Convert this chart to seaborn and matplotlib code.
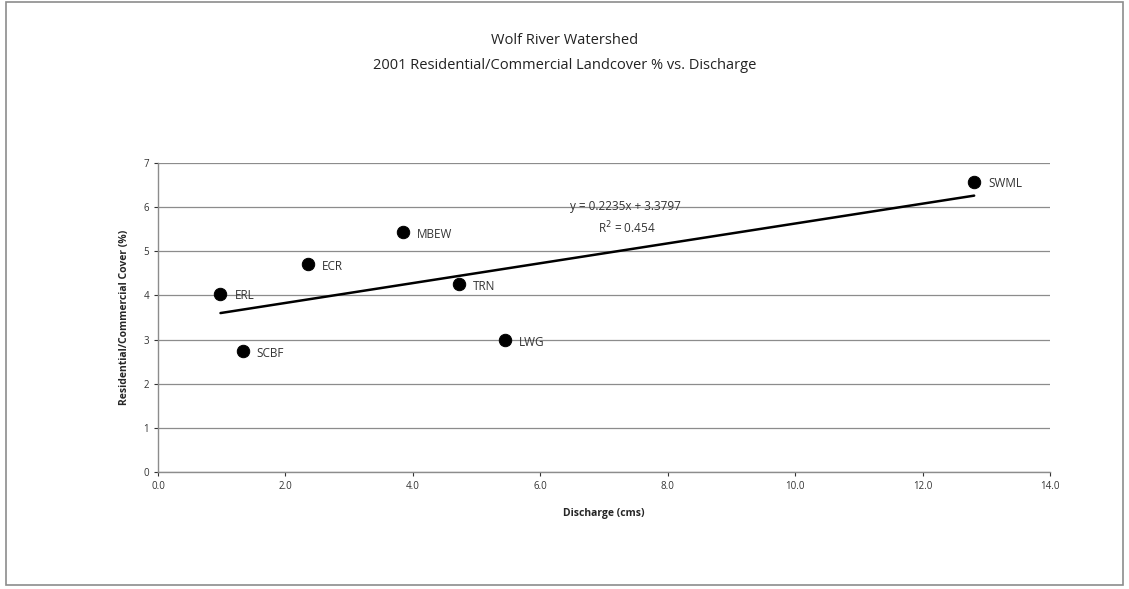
import numpy as np
import pandas as pd
import matplotlib
matplotlib.use('Agg')
import matplotlib.pyplot as plt
import seaborn as sns

# -------------------------------
# Data
# -------------------------------
sites = ['ERL', 'ECR', 'MBEW', 'TRN', 'SCBF', 'LWG', 'SWML']
discharge = [0.98, 2.36, 3.85, 4.73, 1.33, 5.45, 12.81]
res_cover = [4.04, 4.71, 5.43, 4.26, 2.74, 2.99, 6.58]

df = pd.DataFrame({'site': sites, 'discharge': discharge, 'cover': res_cover})

# -------------------------------
# Figure setup
# -------------------------------
sns.set_theme(style='white')
plt.rcParams['font.family'] = ['Open Sans', 'DejaVu Sans']

fig = plt.figure(figsize=(11.29, 5.89), dpi=100)
ax = fig.add_axes([0.140, 0.199, 0.790, 0.524])

# outer chart border
fig.patches.append(plt.Rectangle((0.005, 0.006), 0.99, 0.99, transform=fig.transFigure,
                                 fill=False, edgecolor='#8c8c8c', linewidth=1.2))

# points + linear trendline
sns.scatterplot(data=df, x='discharge', y='cover', color='black', s=80,
                edgecolor='black', ax=ax, zorder=3)
sns.regplot(data=df, x='discharge', y='cover', scatter=False, ci=None,
            color='black', line_kws={'linewidth': 1.8}, ax=ax)

for _, r in df.iterrows():
    ax.annotate(r['site'], (r['discharge'], r['cover']), xytext=(10, -1.5),
                textcoords='offset points', fontsize=8.5, color='#333333',
                va='center')

ax.text(7.33, 6.01, 'y = 0.2235x + 3.3797', fontsize=8.5, color='#333333',
        ha='center', va='center')
ax.text(7.35, 5.52, 'R$^2$ = 0.454', fontsize=8.5, color='#333333',
        ha='center', va='center')

# -------------------------------
# Axes styling
# -------------------------------
ax.set_xlim(0, 14)
ax.set_ylim(0, 7)
ax.set_xticks(np.arange(0, 15, 2))
ax.set_xticklabels([f'{v:.1f}' for v in np.arange(0, 15, 2)])
ax.set_yticks(range(0, 8))
ax.tick_params(axis='both', labelsize=7, colors='#333333', length=3,
               direction='out', bottom=True, left=True, width=0.8)
ax.yaxis.grid(True, color='#8c8c8c', linewidth=0.9)
for side in ['top', 'right']:
    ax.spines[side].set_visible(False)
for side in ['left', 'bottom']:
    ax.spines[side].set_color('#8c8c8c')
    ax.spines[side].set_linewidth(1.0)

ax.set_xlabel('Discharge (cms)', fontsize=7.5, fontweight='bold', labelpad=12)
ax.set_ylabel('Residential/Commercial Cover (%)', fontsize=7.5, fontweight='bold',
              labelpad=10)

fig.text(0.5, 0.932, 'Wolf River Watershed', ha='center', va='center',
         fontsize=10.5, color='#222222')
fig.text(0.5, 0.889, '2001 Residential/Commercial Landcover % vs. Discharge',
         ha='center', va='center', fontsize=10.5, color='#222222')

fig.savefig('out.png', dpi=100)
plt.close()
